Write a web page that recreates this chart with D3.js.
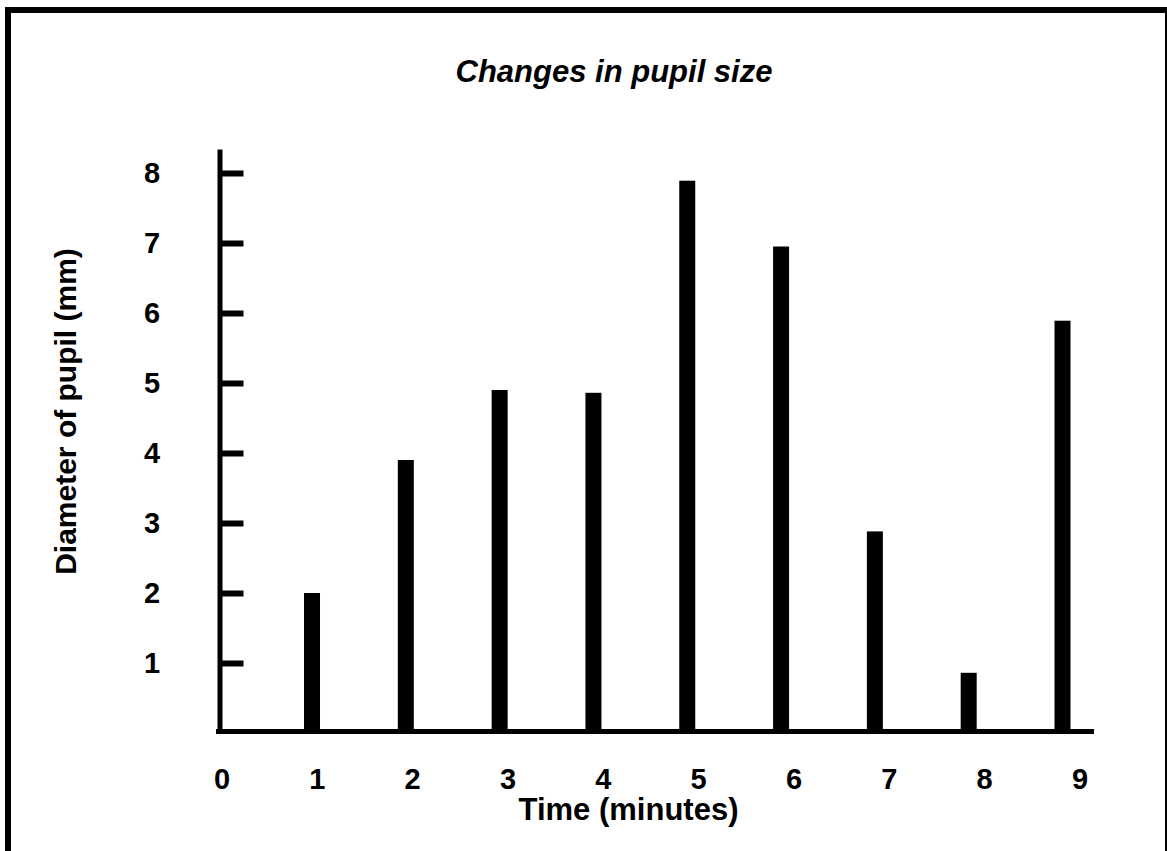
<!DOCTYPE html>
<html>
<head>
<meta charset="utf-8">
<script src="https://cdn.jsdelivr.net/npm/d3@7"></script>
<style>
  body { margin: 0; background: #fff; }
  text { font-family: Arial, "Liberation Sans", Helvetica, sans-serif; font-weight: bold; fill: #000; }
</style>
</head>
<body>
<script>
// minutes after start, pupil diameter (mm)
var minutes = [1, 2, 3, 4, 5, 6, 7, 8, 9];
var diameter = [2.0, 3.9, 4.9, 4.86, 7.89, 6.95, 2.88, 0.86, 5.89];
var xTicks = [0, 1, 2, 3, 4, 5, 6, 7, 8, 9];
var yTicks = [1, 2, 3, 4, 5, 6, 7, 8];

var W = 1167, H = 851;

var svg = d3.select("body").append("svg")
  .attr("width", W)
  .attr("height", H);

// frame round the whole picture
svg.append("rect")
  .attr("x", 8)
  .attr("y", 10)
  .attr("width", 1160)
  .attr("height", 900)
  .attr("fill", "none")
  .attr("stroke", "#000")
  .attr("stroke-width", 6);

var x = d3.scaleLinear().domain([0, 9]).range([218.2, 1062.5]);
var xLab = d3.scaleLinear().domain([0, 9]).range([222, 1080]);
var y = d3.scaleLinear().domain([0, 584 / 70]).range([733, 149]);

// y axis: line plus ticks pointing right
var yAxis = d3.axisRight(y)
  .tickValues(yTicks)
  .tickSize(24)
  .tickSizeOuter(0)
  .tickFormat("");

var gy = svg.append("g")
  .attr("transform", "translate(219.5,0)")
  .call(yAxis);
gy.select(".domain").attr("stroke-width", 5);
gy.selectAll(".tick line").attr("stroke-width", 6);

// x axis line
svg.append("line")
  .attr("x1", 216)
  .attr("x2", 1094)
  .attr("y1", 731.5)
  .attr("y2", 731.5)
  .attr("stroke", "#000")
  .attr("stroke-width", 5);

// bars
svg.selectAll(".bar")
  .data(minutes)
  .enter().append("rect")
  .attr("class", "bar")
  .attr("x", function(d) { return x(d) - 8; })
  .attr("width", 16)
  .attr("y", function(d, i) { return y(diameter[i]); })
  .attr("height", function(d, i) { return y(0) - y(diameter[i]); })
  .attr("fill", "#000");

// tick labels
svg.selectAll(".ylab")
  .data(yTicks)
  .enter().append("text")
  .attr("class", "ylab")
  .attr("x", 152)
  .attr("y", function(d) { return y(d) + 10; })
  .attr("text-anchor", "middle")
  .style("font-size", "29px")
  .text(function(d) { return d; });

svg.selectAll(".xlab")
  .data(xTicks)
  .enter().append("text")
  .attr("class", "xlab")
  .attr("x", function(d) { return xLab(d); })
  .attr("y", 789)
  .attr("text-anchor", "middle")
  .style("font-size", "29px")
  .text(function(d) { return d; });

// titles
svg.append("text")
  .attr("x", 614)
  .attr("y", 82)
  .attr("text-anchor", "middle")
  .style("font-size", "31px")
  .style("font-style", "italic")
  .text("Changes in pupil size");

svg.append("text")
  .attr("x", 628.5)
  .attr("y", 820)
  .attr("text-anchor", "middle")
  .style("font-size", "31px")
  .text("Time (minutes)");

svg.append("text")
  .attr("transform", "translate(76,411.5) rotate(-90)")
  .attr("text-anchor", "middle")
  .style("font-size", "30px")
  .text("Diameter of pupil (mm)");
</script>
</body>
</html>
